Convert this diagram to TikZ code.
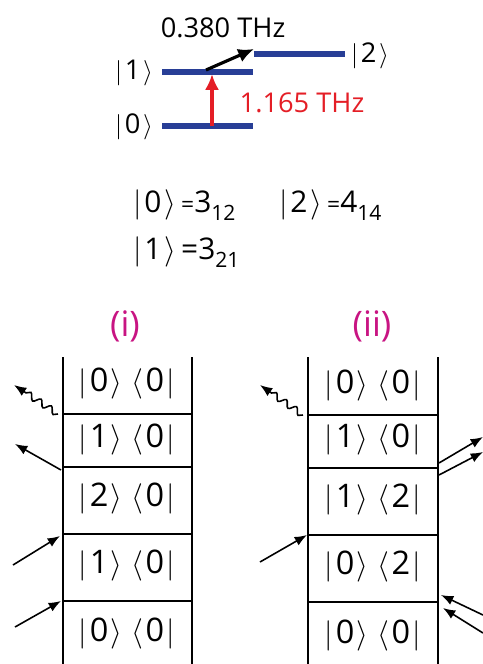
\documentclass[tikz,border=0pt]{standalone}
\usepackage{fontspec}
\setmainfont{Open Sans}
\usepackage{tikz}
\usetikzlibrary{arrows.meta,calc,decorations.pathmorphing}
\definecolor{levelblue}{RGB}{40,62,150}
\definecolor{pumpred}{RGB}{228,30,38}
\definecolor{panelmag}{RGB}{200,20,130}
\newcommand{\ket}[1]{$\vert$\hspace{1.5pt}#1\hspace{1.5pt}$\rangle$}
\newcommand{\bra}[1]{$\langle$\hspace{1.5pt}#1\hspace{1.5pt}$\vert$}
\newcommand{\lsub}[1]{\raisebox{-4.5pt}{\fontsize{12}{13}\selectfont #1}}
\newcommand{\smeq}{{\fontsize{13}{14}\selectfont=}}

\begin{document}
\begin{tikzpicture}[x=0.02cm,y=-0.02cm,
  level/.style={levelblue,line width=3.3pt},
  lab/.style={font=\fontsize{15.5}{18}\selectfont,inner sep=0pt},
  eqn/.style={font=\fontsize{17}{19}\selectfont,inner sep=0pt,anchor=west},
  cell/.style={font=\fontsize{18.5}{20}\selectfont,inner sep=0pt},
  panel/.style={font=\fontsize{20}{22}\selectfont,text=panelmag,inner sep=0pt},
  arr/.style={-{Latex[length=7pt,width=5.5pt]},line width=0.9pt},
  wavy/.style={arr,decorate,decoration={snake,amplitude=1.8pt,segment length=7pt,post length=7pt}},
  rail/.style={line width=1.1pt},
  rung/.style={line width=0.6pt}]
\useasboundingbox (0,0) rectangle (483,664);

\draw[level] (162,126) coordinate (l0w) -- (253,126) coordinate (l0e);
\draw[level] (162,72) coordinate (l1w) -- (253,72) coordinate (l1e);
\draw[level] (254,54) coordinate (l2w) -- (345,54) coordinate (l2e);
\node[lab] (k0) at (134,127) {\ket{0}};
\node[lab] (k1) at (134,73) {\ket{1}};
\node[lab] (k2) at (370,56) {\ket{2}};
\coordinate (p0) at (212,126);
\coordinate (p1) at (212,74);
\coordinate (s1) at (206,70);
\coordinate (s2) at (254,49);
\draw[-{Latex[length=9pt,width=8pt]},pumpred,line width=2.2pt] (p0) -- (p1);
\draw[-{Latex[length=9pt,width=8pt]},line width=1.8pt] (s1) -- (s2);
\node[lab] (f12) at (223,28) {0.380 THz};
\node[lab,text=pumpred] (f01) at (302,103) {1.165 THz};

\node[eqn] (e0) at (133,205) {\ket{0}\hspace{3pt}\smeq3\lsub{12}};
\node[eqn] (e2) at (279,205) {\ket{2}\hspace{3pt}\smeq4\lsub{14}};
\node[eqn] (e1) at (133,252) {\ket{1}\hspace{3pt}=3\lsub{21}};

\node[panel] (pi) at (125,326) {(i)};
\draw[rail] (63,357) -- (63,664);
\draw[rail] (192,357) -- (192,664);
\draw[rung] (63,414) coordinate (ia) -- (192,414);
\draw[rung] (63,467) coordinate (ib) -- (192,467);
\draw[rung] (63,534) coordinate (ic) -- (192,534);
\draw[rung] (63,601) coordinate (id) -- (192,601);
\node[cell] (i0) at (127,384) {\ket{0} \bra{0}};
\node[cell] (i1) at (127,440) {\ket{1} \bra{0}};
\node[cell] (i2) at (127,499) {\ket{2} \bra{0}};
\node[cell] (i3) at (127,566) {\ket{1} \bra{0}};
\node[cell] (i4) at (127,634) {\ket{0} \bra{0}};
\coordinate (iw) at (14,385);
\coordinate (io) at (15,444);
\coordinate (ip) at (13,565);
\coordinate (iq) at (15,627);
\draw[wavy] ($(ia)+(-5,0)$) -- (iw);
\draw[arr] ($(ib)+(-2,3)$) -- (io);
\draw[arr] (ip) -- ($(ic)+(-3,2)$);
\draw[arr] (iq) -- ($(id)+(-2,0)$);

\node[panel] (pii) at (372,326) {(ii)};
\draw[rail] (308,357) -- (308,664);
\draw[rail] (438,357) -- (438,664);
\draw[rung] (308,415) coordinate (ja) -- (438,415);
\draw[rung] (308,468) coordinate (jb) -- (438,468) coordinate (jbe);
\draw[rung] (308,535) coordinate (jc) -- (438,535);
\draw[rung] (308,602) coordinate (jd) -- (438,602) coordinate (jde);
\node[cell] (j0) at (373,386) {\ket{0} \bra{0}};
\node[cell] (j1) at (373,440) {\ket{1} \bra{0}};
\node[cell] (j2) at (373,500) {\ket{1} \bra{2}};
\node[cell] (j3) at (373,567) {\ket{0} \bra{2}};
\node[cell] (j4) at (373,636) {\ket{0} \bra{0}};
\coordinate (jw) at (260,385);
\coordinate (jp) at (260,562);
\coordinate (jo1) at (483,437);
\coordinate (jo2) at (483,452);
\coordinate (jq1) at (483,615);
\coordinate (jq2) at (483,633);
\draw[wavy] ($(ja)+(-5,0)$) -- (jw);
\draw[arr] (jp) -- ($(jc)+(-1,0)$);
\draw[arr] (439,463) -- (jo1);
\draw[arr] (439,475) -- (jo2);
\draw[arr] (jq1) -- (441,595);
\draw[arr] (jq2) -- (443,608);
\end{tikzpicture}
\end{document}
